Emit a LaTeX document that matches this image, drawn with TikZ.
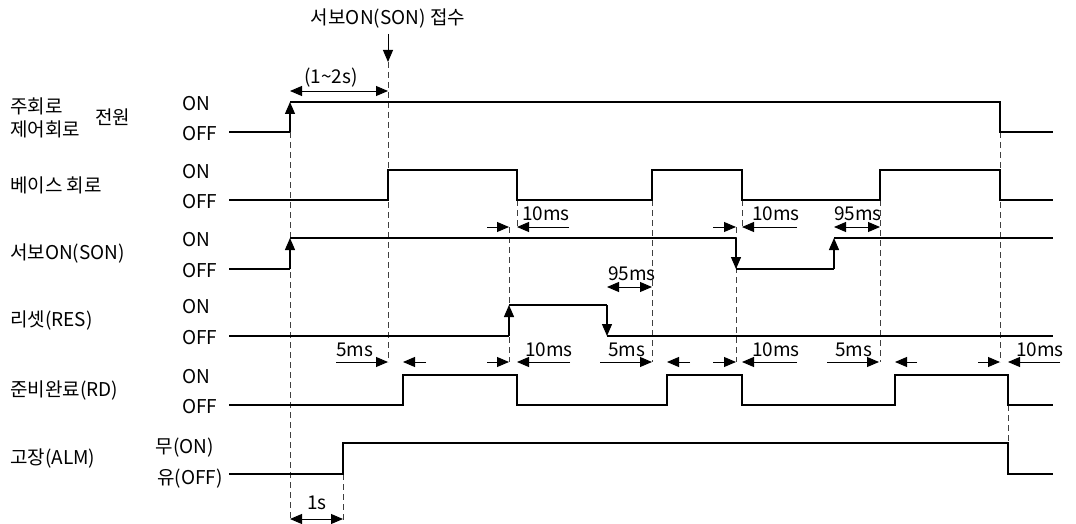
\documentclass[tikz,border=0pt]{standalone}
\usepackage{fontspec}
\setmainfont{Noto Sans CJK KR}
\usetikzlibrary{arrows.meta}
\tikzset{
  sig/.style={line width=1.3pt,line join=miter},
  sigarr/.style={line width=1.3pt,-{Triangle[length=12pt,width=10pt]}},
  guide/.style={line width=0.9pt,dash pattern=on 6pt off 4pt,black!75},
  dimin/.style={line width=0.9pt,-{Triangle[length=12pt,width=10pt]}},
  dimboth/.style={line width=0.9pt,{Triangle[length=12pt,width=10pt]}-{Triangle[length=12pt,width=10pt]}},
  lbl/.style={font=\fontsize{19}{21}\selectfont,inner sep=0pt},
}
\begin{document}
\begin{tikzpicture}[x=1pt,y=-1pt]
\useasboundingbox (0,0) rectangle (1076,524);
\node[lbl] (title) at (388,19) {서보ON(SON) 접수};
\draw[dimin] ([yshift=-5pt]title.south) -- (388,62);
\node[lbl,anchor=west] (main) at (10,106) {주회로};
\node[lbl,anchor=west] (ctrl) at (10,129) {제어회로};
\node[lbl,anchor=west] (pwr) at (95,117) {전원};
\foreach \n/\t/\y in {base/베이스 회로/185,son/서보ON(SON)/254,res/리셋(RES)/321,rdy/준비완료(RD)/391,alm/고장(ALM)/459}
  \node[lbl,anchor=west] (\n) at (10,\y) {\t};
\foreach \n/\yon/\yoff in {pw/102/132,bs/170/200,sn/238/269,rs/305/336,rd/375/405} {
  \node[lbl,anchor=west] (\n-on) at (182,\yon+2) {ON};
  \node[lbl,anchor=west] (\n-off) at (182,\yoff+2) {OFF};
}
\node[lbl,anchor=east] (al-on) at (214,448) {무(ON)};
\node[lbl,anchor=east] (al-off) at (223,479) {유(OFF)};
\foreach \x/\ya/\yb in {290/132/520,388/62/362,343/474/520,509/227/362,517/200/227,652/200/362,736/227/362,742/200/227,880/200/362,1000/132/362,1008/405/443}
  \draw[guide] (\x,\ya) -- (\x,\yb);
\draw[sig] (229,132) -- (290,132);
\draw[sigarr] (290,132) -- (290,102);
\draw[sig] (290,102) -- (1000,102) -- (1000,132) -- (1053,132);
\draw[sig] (229,200) -- (388,200) -- (388,170) -- (517,170) -- (517,200) -- (652,200) -- (652,170) -- (742,170) -- (742,200) -- (880,200) -- (880,170) -- (1000,170) -- (1000,200) -- (1053,200);
\draw[sig] (229,269) -- (290,269);
\draw[sigarr] (290,269) -- (290,238);
\draw[sig] (290,238) -- (736,238);
\draw[sigarr] (736,238) -- (736,269);
\draw[sig] (736,269) -- (834,269);
\draw[sigarr] (834,269) -- (834,238);
\draw[sig] (834,238) -- (1053,238);
\draw[sig] (229,336) -- (509,336);
\draw[sigarr] (509,336) -- (509,305);
\draw[sig] (509,305) -- (607,305);
\draw[sigarr] (607,305) -- (607,336);
\draw[sig] (607,336) -- (1053,336);
\draw[sig] (229,405) -- (403,405) -- (403,375) -- (517,375) -- (517,405) -- (667,405) -- (667,375) -- (742,375) -- (742,405) -- (895,405) -- (895,375) -- (1008,375) -- (1008,405) -- (1053,405);
\draw[sig] (229,474) -- (343,474) -- (343,443) -- (1008,443) -- (1008,474) -- (1053,474);
\draw[dimboth] (290,91) -- (388,91);
\node[lbl] (t12) at (331,78) {(1\textasciitilde2s)};
\draw[dimboth] (290,519) -- (343,519);
\node[lbl] (t1s) at (317,503) {1s};
\draw[dimboth] (834,227) -- (880,227);
\node[lbl,anchor=west] (t95a) at (834,214) {95ms};
\draw[dimboth] (607,287) -- (652,287);
\node[lbl,anchor=west] (t95b) at (608,274) {95ms};
\foreach \a/\b/\c/\d/\y in {487/509/517/569/227,713/736/742/797/227,336/388/403/426/362,487/509/517/570/362,600/652/667/690/362,713/736/742/797/362,827/879/895/917/362,978/1000/1008/1060/362} {
  \draw[dimin] (\a,\y) -- (\b,\y);
  \draw[dimin] (\d,\y) -- (\c,\y);
}
\foreach[count=\i] \t/\x/\y in {10ms/522/214,10ms/752/214,5ms/336/350,10ms/525/350,5ms/608/350,10ms/752/350,5ms/835/350,10ms/1016/350}
  \node[lbl,anchor=west] (d\i) at (\x,\y) {\t};
\end{tikzpicture}
\end{document}
